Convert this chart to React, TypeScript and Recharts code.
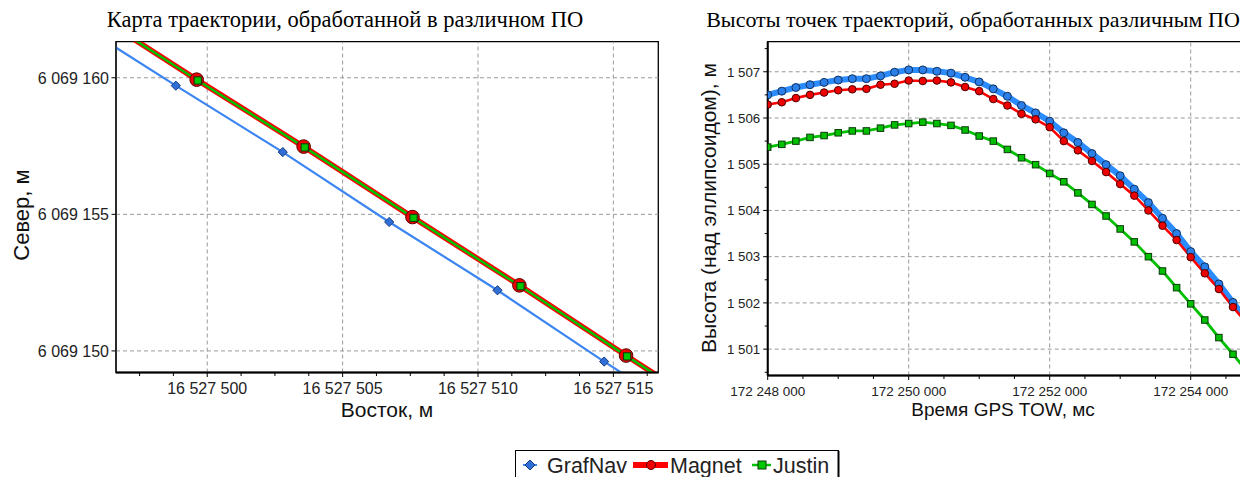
import React from 'react';
import { LineChart, Line, XAxis, YAxis, ReferenceLine, ReferenceArea } from 'recharts';

const SANS = '"Liberation Sans", Arial, sans-serif';
const SERIF = '"Liberation Serif", "Times New Roman", serif';

// ---------------- Left chart: trajectory map (East / North, m) ----------------
const grafNavEast = [16527494.89, 16527498.84, 16527502.79, 16527506.72, 16527510.72, 16527514.66, 16527518.61];
const grafNavNorth = [6069162.2, 6069159.71, 6069157.28, 6069154.72, 6069152.22, 6069149.61, 6069147.1];
const magnetEast = [16527495.65, 16527499.61, 16527503.56, 16527507.58, 16527511.53, 16527515.47, 16527519.43];
const magnetNorth = [6069162.46, 6069159.93, 6069157.48, 6069154.9, 6069152.4, 6069149.83, 6069147.3];
const justinEast = [16527495.69, 16527499.65, 16527503.6, 16527507.62, 16527511.57, 16527515.51, 16527519.47];
const justinNorth = [6069162.43, 6069159.9, 6069157.45, 6069154.87, 6069152.37, 6069149.8, 6069147.27];

const eastDomain = [16527496.63, 16527516.66];
const northDomain = [6069149.21, 6069161.32];
const eastMajorTicks = [16527500, 16527505, 16527510, 16527515];
const northMajorTicks = [6069150, 6069155, 6069160];

// ---------------- Right chart: heights vs GPS time ----------------
const gpsTime = [
  172248000, 172248200, 172248400, 172248600, 172248800, 172249000, 172249200, 172249400, 172249600, 172249800,
  172250000, 172250200, 172250400, 172250600, 172250800, 172251000, 172251200, 172251400, 172251600, 172251800,
  172252000, 172252200, 172252400, 172252600, 172252800, 172253000, 172253200, 172253400, 172253600, 172253800,
  172254000, 172254200, 172254400, 172254600, 172254800,
];
const grafNavHeight = [
  1506.5, 1506.58, 1506.66, 1506.72, 1506.77, 1506.82, 1506.85, 1506.85, 1506.91, 1506.99,
  1507.04, 1507.04, 1507.01, 1506.97, 1506.88, 1506.78, 1506.63, 1506.47, 1506.27, 1506.11,
  1505.93, 1505.68, 1505.47, 1505.23, 1504.99, 1504.75, 1504.46, 1504.17, 1503.83, 1503.5,
  1503.11, 1502.78, 1502.41, 1502.01, 1501.62,
];
const magnetHeight = [
  1506.29, 1506.34, 1506.43, 1506.5, 1506.55, 1506.6, 1506.62, 1506.63, 1506.72, 1506.74,
  1506.81, 1506.8, 1506.81, 1506.77, 1506.67, 1506.58, 1506.41, 1506.27, 1506.09, 1505.97,
  1505.8, 1505.5, 1505.3, 1505.07, 1504.83, 1504.57, 1504.32, 1504.0, 1503.67, 1503.36,
  1502.99, 1502.64, 1502.3, 1501.91, 1501.55,
];
const justinHeight = [
  1505.37, 1505.43, 1505.5, 1505.58, 1505.62, 1505.68, 1505.72, 1505.72, 1505.78, 1505.85,
  1505.88, 1505.91, 1505.88, 1505.84, 1505.74, 1505.61, 1505.5, 1505.32, 1505.14, 1504.99,
  1504.8, 1504.62, 1504.38, 1504.13, 1503.88, 1503.6, 1503.32, 1503.0, 1502.69, 1502.33,
  1501.98, 1501.63, 1501.25, 1500.89, 1500.52,
];

const timeDomain = [172248000, 172255000];
const heightDomain = [1500.43, 1507.65];
const timeMajorTicks = [172248000, 172250000, 172252000, 172254000];
const heightMajorTicks = [1501, 1502, 1503, 1504, 1505, 1506, 1507];

const seriesNames = ['GrafNav', 'Magnet', 'Justin'];
const leftTitle = 'Карта траектории, обработанной в различном ПО';
const rightTitle = 'Высоты точек траекторий, обработанных различным ПО';
const leftXTitle = 'Восток, м';
const leftYTitle = 'Север, м';
const rightXTitle = 'Время GPS TOW, мс';
const rightYTitle = 'Высота (над эллипсоидом), м';

// ---------------- helpers ----------------
const pairs = (xs: number[], ys: number[]) => xs.map((x, i) => ({ x, y: ys[i] }));

const withMinor = (domain: number[], step: number) => {
  const out: number[] = [];
  let v = Math.ceil(domain[0] / step) * step;
  while (v <= domain[1] + 1e-9) {
    out.push(v);
    v += step;
  }
  return out;
};

const fmtSpaced = (v: number) =>
  Math.round(v)
    .toString()
    .replace(/\B(?=(\d{3})+(?!\d))/g, ' ');

const isMajor = (majors: number[], v: number) => majors.some((m) => Math.abs(m - v) < 1e-6);

const makeXTick = (majors: number[], fontSize: number, gap: number) => (props: any) => {
  const { x, y, payload } = props;
  const major = isMajor(majors, payload.value);
  return (
    <g>
      <line x1={x} x2={x} y1={y} y2={y + (major ? 4.5 : 3.5)} stroke="#000" strokeWidth={1} />
      {major && (
        <text x={x} y={y + gap} dy="0.71em" textAnchor="middle" fontFamily={SANS} fontSize={fontSize} fill="#222">
          {fmtSpaced(payload.value)}
        </text>
      )}
    </g>
  );
};

const makeYTick = (majors: number[], fontSize: number, gap: number) => (props: any) => {
  const { x, y, payload } = props;
  const major = isMajor(majors, payload.value);
  return (
    <g>
      <line x1={x - (major ? 4.5 : 3)} x2={x} y1={y} y2={y} stroke="#000" strokeWidth={1} />
      {major && (
        <text x={x - gap} y={y} dy="0.36em" textAnchor="end" fontFamily={SANS} fontSize={fontSize} fill="#222">
          {fmtSpaced(payload.value)}
        </text>
      )}
    </g>
  );
};

const diamondDot = (r: number, fill: string, stroke: string) => (p: any) => {
  const { cx, cy, index } = p;
  if (cx == null || cy == null) return <g key={`dd${index}`} />;
  return (
    <path
      key={`dd${index}`}
      d={`M${cx},${cy - r}L${cx + r},${cy}L${cx},${cy + r}L${cx - r},${cy}Z`}
      fill={fill}
      stroke={stroke}
      strokeWidth={1}
    />
  );
};
const circleDot = (r: number, fill: string, stroke: string) => (p: any) => {
  const { cx, cy, index } = p;
  if (cx == null || cy == null) return <g key={`cd${index}`} />;
  return <circle key={`cd${index}`} cx={cx} cy={cy} r={r} fill={fill} stroke={stroke} strokeWidth={1} />;
};
const squareDot = (s: number, fill: string, stroke: string) => (p: any) => {
  const { cx, cy, index } = p;
  if (cx == null || cy == null) return <g key={`sd${index}`} />;
  return <rect key={`sd${index}`} x={cx - s / 2} y={cy - s / 2} width={s} height={s} fill={fill} stroke={stroke} strokeWidth={1} />;
};

const GRID = '#9a9a9a';

// ---------------- charts ----------------
function MapChart() {
  const gn = pairs(grafNavEast, grafNavNorth);
  const mg = pairs(magnetEast, magnetNorth);
  const ju = pairs(justinEast, justinNorth);
  return (
    <LineChart width={665} height={420} margin={{ top: 41.7, right: 6.7, bottom: 0, left: 0 }}>
      <XAxis
        dataKey="x"
        type="number"
        domain={eastDomain}
        allowDataOverflow
        ticks={withMinor(eastDomain, 1.25)}
        interval={0}
        tick={makeXTick(eastMajorTicks, 16, 10)}
        tickLine={false}
        tickSize={0}
        tickMargin={0}
        axisLine={{ stroke: '#000', strokeWidth: 2 }}
        height={47.5}
      />
      <YAxis
        dataKey="y"
        type="number"
        domain={northDomain}
        allowDataOverflow
        ticks={northMajorTicks}
        interval={0}
        tick={makeYTick(northMajorTicks, 16, 7)}
        tickLine={false}
        tickSize={0}
        tickMargin={0}
        axisLine={{ stroke: '#000', strokeWidth: 1 }}
        width={116}
      />
      {eastMajorTicks.map((v) => (
        <ReferenceLine key={`gx${v}`} x={v} stroke={GRID} strokeDasharray="4 3" />
      ))}
      {northMajorTicks.map((v) => (
        <ReferenceLine key={`gy${v}`} y={v} stroke={GRID} strokeDasharray="4 3" />
      ))}
      <ReferenceArea
        x1={eastDomain[0]}
        x2={eastDomain[1]}
        y1={northDomain[0]}
        y2={northDomain[1]}
        fill="none"
        stroke="#000"
        strokeWidth={1.3}
        ifOverflow="visible"
      />
      <Line
        name={seriesNames[0]}
        data={gn}
        dataKey="y"
        type="linear"
        stroke="#3d86f2"
        strokeWidth={2.2}
        dot={diamondDot(4.6, '#2f6fd6', '#173a80')}
        activeDot={false}
        isAnimationActive={false}
      />
      <Line
        name={seriesNames[1]}
        data={mg}
        dataKey="y"
        type="linear"
        stroke="#ff0000"
        strokeWidth={5.5}
        dot={circleDot(6.8, '#ee0000', '#5a0000')}
        activeDot={false}
        isAnimationActive={false}
      />
      <Line
        name={seriesNames[2]}
        data={ju}
        dataKey="y"
        type="linear"
        stroke="#00c000"
        strokeWidth={2.5}
        dot={squareDot(7.2, '#00c800', '#0a3a0a')}
        activeDot={false}
        isAnimationActive={false}
      />
    </LineChart>
  );
}

function HeightChart() {
  const gn = pairs(gpsTime, grafNavHeight);
  const mg = pairs(gpsTime, magnetHeight);
  const ju = pairs(gpsTime, justinHeight);
  return (
    <LineChart width={591.2} height={420} margin={{ top: 41.7, right: 10, bottom: 0, left: 0 }}>
      <XAxis
        dataKey="x"
        type="number"
        domain={timeDomain}
        allowDataOverflow
        ticks={withMinor(timeDomain, 500)}
        interval={0}
        tick={makeXTick(timeMajorTicks, 13.5, 11)}
        tickLine={false}
        tickSize={0}
        tickMargin={0}
        axisLine={{ stroke: '#000', strokeWidth: 2 }}
        height={44.5}
      />
      <YAxis
        dataKey="y"
        type="number"
        domain={heightDomain}
        allowDataOverflow
        ticks={withMinor(heightDomain, 0.5)}
        interval={0}
        tick={makeYTick(heightMajorTicks, 13.3, 7.5)}
        tickLine={false}
        tickSize={0}
        tickMargin={0}
        axisLine={{ stroke: '#000', strokeWidth: 2 }}
        width={87.7}
      />
      {timeMajorTicks.map((v) => (
        <ReferenceLine key={`hx${v}`} x={v} stroke={GRID} strokeDasharray="4 3" />
      ))}
      {heightMajorTicks.map((v) => (
        <ReferenceLine key={`hy${v}`} y={v} stroke={GRID} strokeDasharray="4 3" />
      ))}
      <ReferenceArea
        x1={timeDomain[0]}
        x2={timeDomain[1]}
        y1={heightDomain[0]}
        y2={heightDomain[1]}
        fill="none"
        stroke="#000"
        strokeWidth={1.3}
        ifOverflow="visible"
      />
      <Line
        name={seriesNames[0]}
        data={gn}
        dataKey="y"
        type="linear"
        stroke="#2a8cff"
        strokeWidth={6}
        dot={circleDot(4, '#2a7fe8', '#10305f')}
        activeDot={false}
        isAnimationActive={false}
      />
      <Line
        name={seriesNames[1]}
        data={mg}
        dataKey="y"
        type="linear"
        stroke="#ff0000"
        strokeWidth={2.6}
        dot={circleDot(3.8, '#ee0000', '#4a0000')}
        activeDot={false}
        isAnimationActive={false}
      />
      <Line
        name={seriesNames[2]}
        data={ju}
        dataKey="y"
        type="linear"
        stroke="#00c000"
        strokeWidth={2.8}
        dot={squareDot(6.5, '#00c000', '#0a3a0a')}
        activeDot={false}
        isAnimationActive={false}
      />
    </LineChart>
  );
}

function LegendBox() {
  return (
    <svg width={340} height={40} style={{ position: 'absolute', left: 505, top: 440 }}>
      <rect x={10.5} y={10.5} width={323} height={40} fill="#fff" stroke="#000" strokeWidth={1} />
      <line x1={333.5} x2={333.5} y1={11} y2={40} stroke="#000" strokeWidth={2} />
      {/* GrafNav */}
      <line x1={18} x2={32} y1={25} y2={25} stroke="#3d86f2" strokeWidth={2} />
      <path d="M25,20L30,25L25,30L20,25Z" fill="#2f6fd6" stroke="#173a80" strokeWidth={1} />
      <text x={42} y={25} dy="0.36em" fontFamily={SANS} fontSize={21.5} fill="#222">
        {seriesNames[0]}
      </text>
      {/* Magnet */}
      <line x1={128} x2={163} y1={25} y2={25} stroke="#ff0000" strokeWidth={6} />
      <circle cx={146} cy={25} r={4.5} fill="#ee0000" stroke="#5a0000" strokeWidth={1} />
      <text x={165} y={25} dy="0.36em" fontFamily={SANS} fontSize={21.5} fill="#222">
        {seriesNames[1]}
      </text>
      {/* Justin */}
      <line x1={247} x2={266} y1={25} y2={25} stroke="#00c000" strokeWidth={2.5} />
      <rect x={253} y={21} width={8} height={8} fill="#00c800" stroke="#0a3a0a" strokeWidth={1} />
      <text x={268} y={25} dy="0.36em" fontFamily={SANS} fontSize={21.5} fill="#222">
        {seriesNames[2]}
      </text>
    </svg>
  );
}

const abs = (style: React.CSSProperties): React.CSSProperties => ({
  position: 'absolute',
  whiteSpace: 'nowrap',
  lineHeight: 1,
  ...style,
});

export default function App() {
  return (
    <div
      style={{
        position: 'absolute',
        left: 0,
        top: 0,
        width: 1240,
        height: 477,
        overflow: 'hidden',
        background: '#fff',
      }}
    >
      <div style={abs({ left: 0, top: 0 })}>
        <MapChart />
      </div>
      <div style={abs({ left: 680, top: 0 })}>
        <HeightChart />
      </div>
      <div style={abs({ left: 345, top: 9, transform: 'translateX(-50%)', fontFamily: SERIF, fontSize: 22.5, color: '#000' })}>
        {leftTitle}
      </div>
      <div style={abs({ left: 973, top: 9, transform: 'translateX(-50%)', fontFamily: SERIF, fontSize: 22, color: '#000' })}>
        {rightTitle}
      </div>
      <div style={abs({ left: 387, top: 409, transform: 'translate(-50%, -50%)', fontFamily: SANS, fontSize: 21, color: '#111' })}>
        {leftXTitle}
      </div>
      <div
        style={abs({
          left: 22,
          top: 215,
          transform: 'translate(-50%, -50%) rotate(-90deg)',
          fontFamily: SANS,
          fontSize: 22,
          color: '#111',
        })}
      >
        {leftYTitle}
      </div>
      <div style={abs({ left: 1003, top: 409, transform: 'translate(-50%, -50%)', fontFamily: SANS, fontSize: 19, color: '#111' })}>
        {rightXTitle}
      </div>
      <div
        style={abs({
          left: 708,
          top: 208,
          transform: 'translate(-50%, -50%) rotate(-90deg)',
          fontFamily: SANS,
          fontSize: 21,
          color: '#111',
        })}
      >
        {rightYTitle}
      </div>
      <LegendBox />
    </div>
  );
}
